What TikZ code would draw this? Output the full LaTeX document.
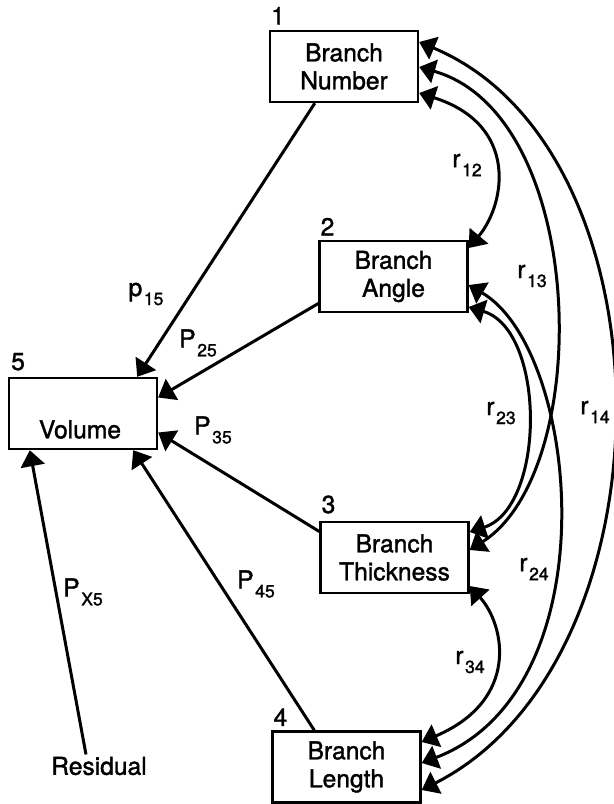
\documentclass[tikz,border=0pt]{standalone}
\usepackage{fontspec}
\setmainfont{TeX Gyre Heros}[FakeBold=1.5]
\usetikzlibrary{arrows.meta,calc}

\newcommand\pathlab[2]{#1\kern0.8pt\raisebox{-4.5pt}{\fontsize{8.8}{10}\selectfont #2}}

\begin{document}
\begin{tikzpicture}[x=0.5pt,y=-0.5pt,
  every node/.style={font=\fontsize{12.3}{14}\selectfont},
  box/.style={draw,line width=1.2pt,minimum width=74pt,minimum height=35.5pt,
    inner sep=0pt,align=center},
  num/.style={anchor=south west,inner sep=0pt},
  lab/.style={inner sep=0pt},
  tipped/.style={line width=1.5pt,-{Triangle[length=8pt,width=12pt]}},
  twotipped/.style={line width=1.5pt,
    {Triangle[length=8pt,width=12pt]}-{Triangle[length=8pt,width=12pt]}}]
\useasboundingbox (0,0) rectangle (614,804);

% variable boxes
\node[box] (b1) at (344,66.5)   {Branch\\Number};
\node[box] (b2) at (393.5,276.5){Branch\\Angle};
\node[box] (b3) at (394.5,557.5){Branch\\Thickness};
\node[box] (b4) at (346.5,767)  {Branch\\Length};
\node[box] (b5) at (83,413.5)   {};
\node[lab] (vol) at ($(b5.center)+(-3,16)$) {Volume};
\node[lab] (res) at (99,766) {Residual};

% box numbers
\node[num] (n1) at ($(b1.north west)+(2,-5)$) {1};
\node[num] (n2) at ($(b2.north west)+(2,-4)$) {2};
\node[num] (n3) at ($(b3.north west)+(2,-7)$) {3};
\node[num] (n4) at ($(b4.north west)+(2,-4)$) {4};
\node[num] (n5) at ($(b5.north west)+(3,-6)$) {5};

% tip points on the right sides of the boxes
\coordinate (t1a) at ($(b1.east)+(0,-24.5)$);
\coordinate (t1b) at ($(b1.east)+(0,0.5)$);
\coordinate (t1c) at ($(b1.east)+(0,26.5)$);
\coordinate (t2a) at ($(b2.east)+(0,-28.5)$);
\coordinate (t2b) at ($(b2.east)+(0,8.5)$);
\coordinate (t2c) at ($(b2.east)+(0,30.5)$);
\coordinate (t3a) at ($(b3.east)+(0,-25.5)$);
\coordinate (t3b) at ($(b3.east)+(0,-7.5)$);
\coordinate (t3c) at ($(b3.east)+(0,28.5)$);
\coordinate (t4a) at ($(b4.east)+(0,-25)$);
\coordinate (t4b) at ($(b4.east)+(0,-4)$);
\coordinate (t4c) at ($(b4.east)+(0,23)$);

% path coefficients into Volume
\draw[tipped] ($(b1.south west)+(46,0)$) -- ($(b5.north east)+(-21,0)$);
\draw[tipped] ($(b2.west)+(0,27)$) -- ($(b5.east)+(0,-16)$);
\draw[tipped] ($(b3.west)+(0,-26)$) -- ($(b5.east)+(0,19)$);
\draw[tipped] ($(b4.north west)+(43,0)$) -- ($(b5.south east)+(-25,0)$);
\draw[tipped] ($(res.north)+(-13,-2)$) -- ($(b5.south west)+(22,0)$);

\node[lab] at (146,294) {\pathlab{p}{15}};
\node[lab] at (198,343) {\pathlab{P}{25}};
\node[lab] at (213,430) {\pathlab{P}{35}};
\node[lab] at (256,584) {\pathlab{P}{45}};
\node[lab] at (83,592)  {\pathlab{P}{X5}};

% correlations between the branch variables
\draw[twotipped] (t1c) .. controls (520,125) and (505,205) .. (t2a);
\draw[twotipped] (t1b) .. controls (588,115) and (595,470) .. (t3b);
\draw[twotipped] (t1a) .. controls (677,150) and (677,660) .. (t4c);
\draw[twotipped] (t2c) .. controls (546,330) and (546,507) .. (t3a);
\draw[twotipped] (t2b) .. controls (580,350) and (612,690) .. (t4b);
\draw[twotipped] (t3c) .. controls (505,625) and (520,700) .. (t4a);

\node[lab] at (467,165) {\pathlab{r}{12}};
\node[lab] at (532,276) {\pathlab{r}{13}};
\node[lab] at (501,413) {\pathlab{r}{23}};
\node[lab] at (595,412) {\pathlab{r}{14}};
\node[lab] at (534,569) {\pathlab{r}{24}};
\node[lab] at (470,662) {\pathlab{r}{34}};
\end{tikzpicture}
\end{document}
